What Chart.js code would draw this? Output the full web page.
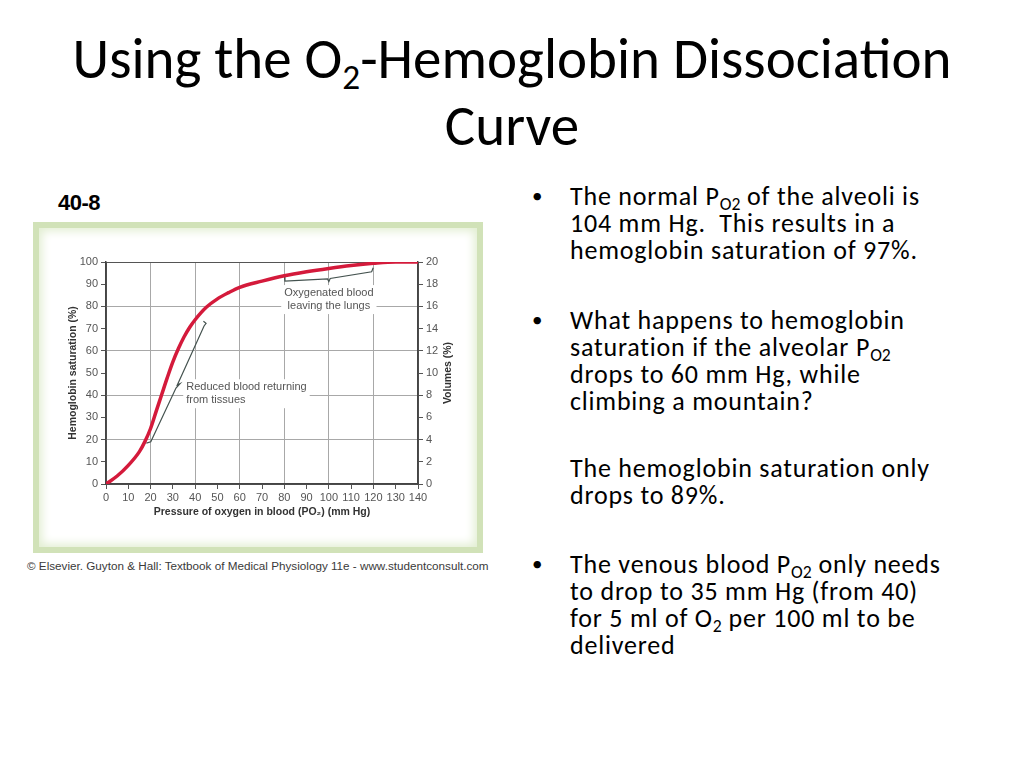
<!DOCTYPE html>
<html>
<head>
<meta charset="utf-8">
<script src="https://cdn.jsdelivr.net/npm/chart.js@4.4.1/dist/chart.umd.min.js"></script>
<style>
  html, body { margin: 0; padding: 0; background: #fff; }
  body { width: 1024px; height: 768px; position: relative; overflow: hidden; font-family: Carlito, Calibri, Lato, sans-serif; color: #000; }
  .title { position: absolute; left: 0; width: 1024px; top: 25px; text-align: center; font-size: 57px; line-height: 67px; }
  .sub { font-size: 0.62em; vertical-align: -0.3em; line-height: 0; }
  .para { position: absolute; left: 570px; font-size: 26px; letter-spacing: 0.8px; line-height: 27px; white-space: nowrap; }
  .para .b { position: absolute; left: -38px; top: 0; font-size: 21px; }
  .para .s { font-size: 0.68em; vertical-align: -0.26em; line-height: 0; letter-spacing: 0; }
  .fig-no { position: absolute; left: 58px; top: 190px; font: bold 22px "Liberation Sans", Arial, sans-serif; letter-spacing: -0.5px; }
  .frame { position: absolute; left: 33px; top: 222px; width: 450px; height: 331px; background: #d1e2b8; }
  .frame-inner { position: absolute; left: 6px; top: 6px; right: 6px; bottom: 6px; background: #fff; box-shadow: inset 0 0 10px 3px #e2eed2; }
  #o2curve { position: absolute; left: 40px; top: 230px; }
  .credit { position: absolute; left: 27px; top: 559px; font: 11.7px "Liberation Sans", Arial, sans-serif; color: #3a3a3a; white-space: nowrap; }
</style>
</head>
<body>
<div class="title">Using the O<span class="sub">2</span>-Hemoglobin Dissociation<br>Curve</div>

<div class="fig-no">40-8</div>
<div class="frame"><div class="frame-inner"></div></div>
<canvas id="o2curve" width="438" height="315"></canvas>
<div class="credit">© Elsevier. Guyton &amp; Hall: Textbook of Medical Physiology 11e - www.studentconsult.com</div>

<div class="para" style="top:183px"><span class="b">•</span>The normal P<span class="s">O2</span> of the alveoli is<br>104 mm Hg.&nbsp; This results in a<br>hemoglobin saturation of 97%.</div>
<div class="para" style="top:307px"><span class="b">•</span>What happens to hemoglobin<br>saturation if the alveolar P<span class="s">O2</span><br>drops to 60 mm Hg, while<br>climbing a mountain?</div>
<div class="para" style="top:455px">The hemoglobin saturation only<br>drops to 89%.</div>
<div class="para" style="top:551px"><span class="b">•</span>The venous blood P<span class="s">O2</span> only needs<br>to drop to 35 mm Hg (from 40)<br>for 5 ml of O<span class="s">2</span> per 100 ml to be<br>delivered</div>

<script>
// dissociation curve
var po2 = [0, 5, 10, 15, 17.5, 20, 22.5, 25, 27.5, 30, 32.5, 35, 37.5, 40, 45, 50, 55, 60, 70, 80, 90, 100, 110, 120, 130, 140];
var saturation = [0, 3.6, 8.4, 14.6, 19.2, 25, 32.7, 40.3, 47.9, 55, 61, 66.2, 70.5, 74, 79.6, 83.4, 86.2, 88.6, 91.4, 93.8, 95.6, 97.1, 98.4, 99.4, 100, 100];

// bracket marks (x = PO2, y = saturation)
var reducedX = [18.1, 20.1, 31.4, 33.2, 32.0, 44.0, 44.9, 43.7];
var reducedY = [18.4, 19.0, 43.2, 45.2, 44.6, 71.2, 72.4, 73.3];
var oxyX = [80.0, 80.3, 99.4, 100.0, 100.6, 119.2, 119.9];
var oxyY = [94.0, 91.4, 92.4, 91.2, 92.6, 95.6, 97.4];

var volumeRange = [0, 20]; // right axis, vol %
var notes = [
    { lines: ['Oxygenated blood', 'leaving the lungs'], x: 100, y: 86, align: 'center' },
    { lines: ['Reduced blood returning', 'from tissues'], x: 36, y: 43.6, align: 'left' }
];

function pts(xs, ys) {
    return xs.map(function (x, i) { return { x: x, y: ys[i] }; });
}

function gridCol(v, max) {
    if (v === 0 || v === max) return '#555';
    return v % 20 === 0 ? '#a8a8a8' : 'rgba(0,0,0,0)';
}

var axisFont = { family: 'Liberation Sans', size: 11 };
var titleFont = { family: 'Liberation Sans', size: 10.5, weight: 'bold' };

// text labels on the plot, white box behind so gridlines break
var notesPlugin = {
    id: 'notes',
    beforeDatasetsDraw: function (chart) {
        var c = chart.ctx, sx = chart.scales.x, sy = chart.scales.y;
        c.save();
        c.font = '11px "Liberation Sans", Arial';
        c.textBaseline = 'middle';
        notes.forEach(function (n) {
            var px = sx.getPixelForValue(n.x), py = sy.getPixelForValue(n.y);
            var w = Math.max.apply(null, n.lines.map(function (t) { return c.measureText(t).width; }));
            var left = n.align === 'center' ? px - w / 2 : px;
            c.fillStyle = '#fff';
            c.fillRect(left - 3, py - 8, w + 6, n.lines.length * 13 + 3);
            c.fillStyle = '#555';
            c.textAlign = n.align;
            n.lines.forEach(function (t, i) { c.fillText(t, px, py + i * 13); });
        });
        c.restore();
    },
    afterDraw: function (chart) {
        // right axis title reads bottom to top like the left one
        var c = chart.ctx, a = chart.chartArea, s = chart.scales.y2;
        c.save();
        c.translate(s.right - 10, (a.top + a.bottom) / 2);
        c.rotate(-Math.PI / 2);
        c.font = 'bold 10.5px "Liberation Sans", Arial';
        c.fillStyle = '#333';
        c.textAlign = 'center';
        c.textBaseline = 'middle';
        c.fillText('Volumes (%)', 0, 0);
        c.restore();
    }
};

var ctx = document.getElementById('o2curve').getContext('2d');
var o2Chart = new Chart(ctx, {
    type: 'line',
    data: {
        datasets: [{
            label: 'Saturation',
            data: pts(po2, saturation),
            borderColor: '#d41a3b',
            borderWidth: 3.5,
            pointRadius: 0,
            cubicInterpolationMode: 'monotone'
        }, {
            label: 'Reduced',
            data: pts(reducedX, reducedY),
            borderColor: '#44524f',
            borderWidth: 1.2,
            pointRadius: 0,
            tension: 0
        }, {
            label: 'Oxygenated',
            data: pts(oxyX, oxyY),
            borderColor: '#44524f',
            borderWidth: 1.2,
            pointRadius: 0,
            tension: 0
        }]
    },
    options: {
        responsive: false,
        animation: false,
        events: [],
        layout: { padding: { left: 23, top: 32, right: 20, bottom: 23 } },
        plugins: { legend: { display: false }, tooltip: { enabled: false } },
        scales: {
            x: {
                type: 'linear', min: 0, max: 140,
                ticks: { stepSize: 10, color: '#555', font: axisFont, padding: 2, maxRotation: 0, autoSkip: false },
                grid: { color: function (c) { return gridCol(c.tick.value, 140); }, tickColor: '#555', tickLength: 5 },
                border: { color: '#444', width: 1.5 },
                title: { display: true, text: 'Pressure of oxygen in blood (PO\u2082) (mm Hg)', color: '#333', font: titleFont },
                afterFit: function (s) { s.height = 38; }
            },
            y: {
                min: 0, max: 100,
                ticks: { stepSize: 10, color: '#555', font: axisFont, padding: 3 },
                grid: { color: function (c) { return gridCol(c.tick.value, 100); }, tickColor: '#555', tickLength: 5 },
                border: { color: '#444', width: 1.5 },
                title: { display: true, text: 'Hemoglobin saturation (%)', color: '#333', font: titleFont },
                afterFit: function (s) { s.width = 43; }
            },
            y2: {
                position: 'right', min: volumeRange[0], max: volumeRange[1],
                ticks: { stepSize: 2, color: '#555', font: axisFont, padding: 3 },
                grid: { drawOnChartArea: false, tickColor: '#555', tickLength: 5 },
                border: { color: '#444', width: 1.5 },
                afterFit: function (s) { s.width = 40; }
            }
        }
    },
    plugins: [notesPlugin]
});
</script>
</body>
</html>
